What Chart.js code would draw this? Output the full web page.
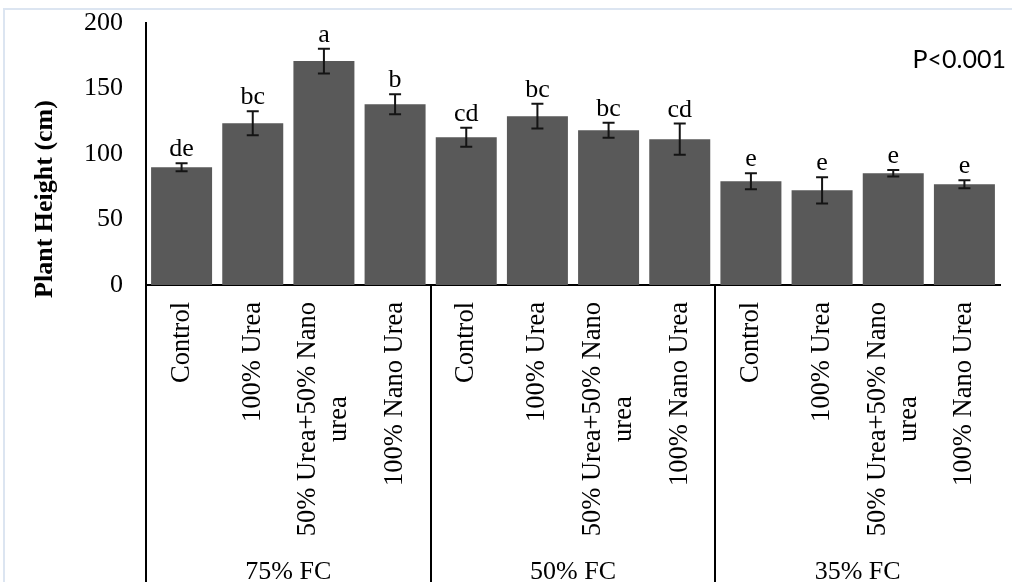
<!DOCTYPE html>
<html>
<head>
<meta charset="utf-8">
<script src="https://cdn.jsdelivr.net/npm/chart.js@4/dist/chart.umd.min.js"></script>
<style>
  html, body { margin: 0; padding: 0; background: #ffffff; }
  #wrap { width: 1012px; height: 582px; }
</style>
</head>
<body>
<div id="wrap"><canvas id="chart" width="1012" height="582"></canvas></div>
<script>
// Treatments within each field-capacity level (multi-line labels as arrays)
const treatmentLabels = [
  'Control', '100% Urea', ['50% Urea+50% Nano', 'urea'], '100% Nano Urea',
  'Control', '100% Urea', ['50% Urea+50% Nano', 'urea'], '100% Nano Urea',
  'Control', '100% Urea', ['50% Urea+50% Nano', 'urea'], '100% Nano Urea'
];
const fieldCapacityLevels = ['75% FC', '50% FC', '35% FC'];
const treatmentsPerLevel = 4;

// Mean plant height (cm) and its standard error
const plantHeight = [89.9, 123.5, 170.9, 138.0, 112.8, 128.9, 118.2, 111.3, 79.2, 72.3, 85.3, 76.9];
const plantHeightErr = [3.0, 9.2, 9.5, 7.6, 7.3, 9.5, 5.7, 11.9, 6.2, 10.0, 2.5, 3.0];

// Significance groups
const significanceLetters = ['de', 'bc', 'a', 'b', 'cd', 'bc', 'bc', 'cd', 'e', 'e', 'e', 'e'];

const yTickValues = [0, 50, 100, 150, 200];
const yAxisTitle = 'Plant Height (cm)';
const pValueNote = 'P<0.001';

const SERIF = '"Liberation Serif", "Times New Roman", serif';
const SANS = 'Lato, "Open Sans", sans-serif';

const annotations = {
  id: 'annotations',
  beforeDraw(chart) {
    // light outer frame
    const ctx = chart.ctx;
    ctx.save();
    ctx.strokeStyle = '#dce5f1';
    ctx.lineWidth = 2;
    ctx.beginPath();
    ctx.moveTo(4, chart.height);
    ctx.lineTo(4, 9);
    ctx.lineTo(chart.width, 9);
    ctx.stroke();
    ctx.restore();
  },
  afterDatasetsDraw(chart) {
    const ctx = chart.ctx;
    const y = chart.scales.y;
    const meta = chart.getDatasetMeta(0);
    ctx.save();
    ctx.strokeStyle = '#141414';
    ctx.lineWidth = 2;
    ctx.fillStyle = '#000000';
    ctx.font = '26px ' + SERIF;
    ctx.textAlign = 'center';
    ctx.textBaseline = 'alphabetic';
    meta.data.forEach((bar, i) => {
      const v = plantHeight[i], e = plantHeightErr[i];
      const yHi = y.getPixelForValue(v + e);
      const yLo = y.getPixelForValue(v - e);
      const cap = 6;
      ctx.beginPath();
      ctx.moveTo(bar.x, yHi); ctx.lineTo(bar.x, yLo);
      ctx.moveTo(bar.x - cap, yHi); ctx.lineTo(bar.x + cap, yHi);
      ctx.moveTo(bar.x - cap, yLo); ctx.lineTo(bar.x + cap, yLo);
      ctx.stroke();
      ctx.fillText(significanceLetters[i], bar.x, yHi - 7);
    });
    ctx.restore();
  },
  afterDraw(chart) {
    const ctx = chart.ctx;
    const x = chart.scales.x;
    const area = chart.chartArea;
    ctx.save();
    ctx.fillStyle = '#000000';

    // rotated treatment labels under each bar
    ctx.font = '26.5px ' + SERIF;
    ctx.textAlign = 'center';
    ctx.textBaseline = 'middle';
    const top = area.bottom + 17;
    const lineHeight = 31;
    treatmentLabels.forEach((label, i) => {
      const lines = Array.isArray(label) ? label : [label];
      const w = Math.max(...lines.map(l => ctx.measureText(l).width));
      const cx = x.getPixelForValue(i);
      ctx.save();
      ctx.translate(cx, top + w / 2);
      ctx.rotate(-Math.PI / 2);
      lines.forEach((line, j) => {
        ctx.fillText(line, 0, (j - (lines.length - 1) / 2) * lineHeight);
      });
      ctx.restore();
    });

    // field-capacity group labels
    ctx.font = '26px ' + SERIF;
    ctx.textBaseline = 'alphabetic';
    fieldCapacityLevels.forEach((lvl, g) => {
      const first = g * treatmentsPerLevel;
      const last = first + treatmentsPerLevel - 1;
      const cx = (x.getPixelForValue(first) + x.getPixelForValue(last)) / 2;
      ctx.fillText(lvl, cx, 579);
    });

    // y-axis title
    ctx.font = 'bold 26px ' + SERIF;
    ctx.save();
    ctx.translate(45, 199);
    ctx.rotate(-Math.PI / 2);
    ctx.textBaseline = 'middle';
    ctx.fillText(yAxisTitle, 0, 0);
    ctx.restore();

    // significance note
    ctx.font = '25px ' + SANS;
    ctx.textAlign = 'right';
    ctx.textBaseline = 'middle';
    ctx.fillText(pValueNote, 1006, 60);
    ctx.restore();
  }
};

new Chart(document.getElementById('chart'), {
  type: 'bar',
  data: {
    labels: treatmentLabels,
    datasets: [{
      data: plantHeight,
      backgroundColor: '#595959',
      borderWidth: 0,
      barPercentage: 0.857,
      categoryPercentage: 1.0
    }]
  },
  options: {
    responsive: false,
    animation: false,
    devicePixelRatio: 1,
    layout: { padding: { left: 0, top: 23, right: 12, bottom: 0 } },
    plugins: { legend: { display: false }, tooltip: { enabled: false } },
    scales: {
      x: {
        ticks: { display: false },
        grid: {
          offset: true,
          drawOnChartArea: false,
          drawTicks: true,
          tickLength: 297,
          lineWidth: 2,
          color: ctx => (ctx.index % treatmentsPerLevel === 0 ? '#000000' : 'rgba(0,0,0,0)')
        },
        border: { display: true, color: '#000000', width: 2 },
        afterFit: s => { s.height = 297; s.paddingLeft = 0; s.paddingRight = 0; }
      },
      y: {
        min: 0,
        max: 200,
        afterBuildTicks: s => { s.ticks = yTickValues.map(v => ({ value: v })); },
        ticks: { color: '#000000', font: { family: SERIF, size: 26 }, padding: 15 },
        grid: { display: false },
        border: { display: true, color: '#000000', width: 2 },
        afterFit: s => { s.width = 146; s.paddingTop = 0; s.paddingBottom = 0; }
      }
    }
  },
  plugins: [annotations]
});
</script>
</body>
</html>
